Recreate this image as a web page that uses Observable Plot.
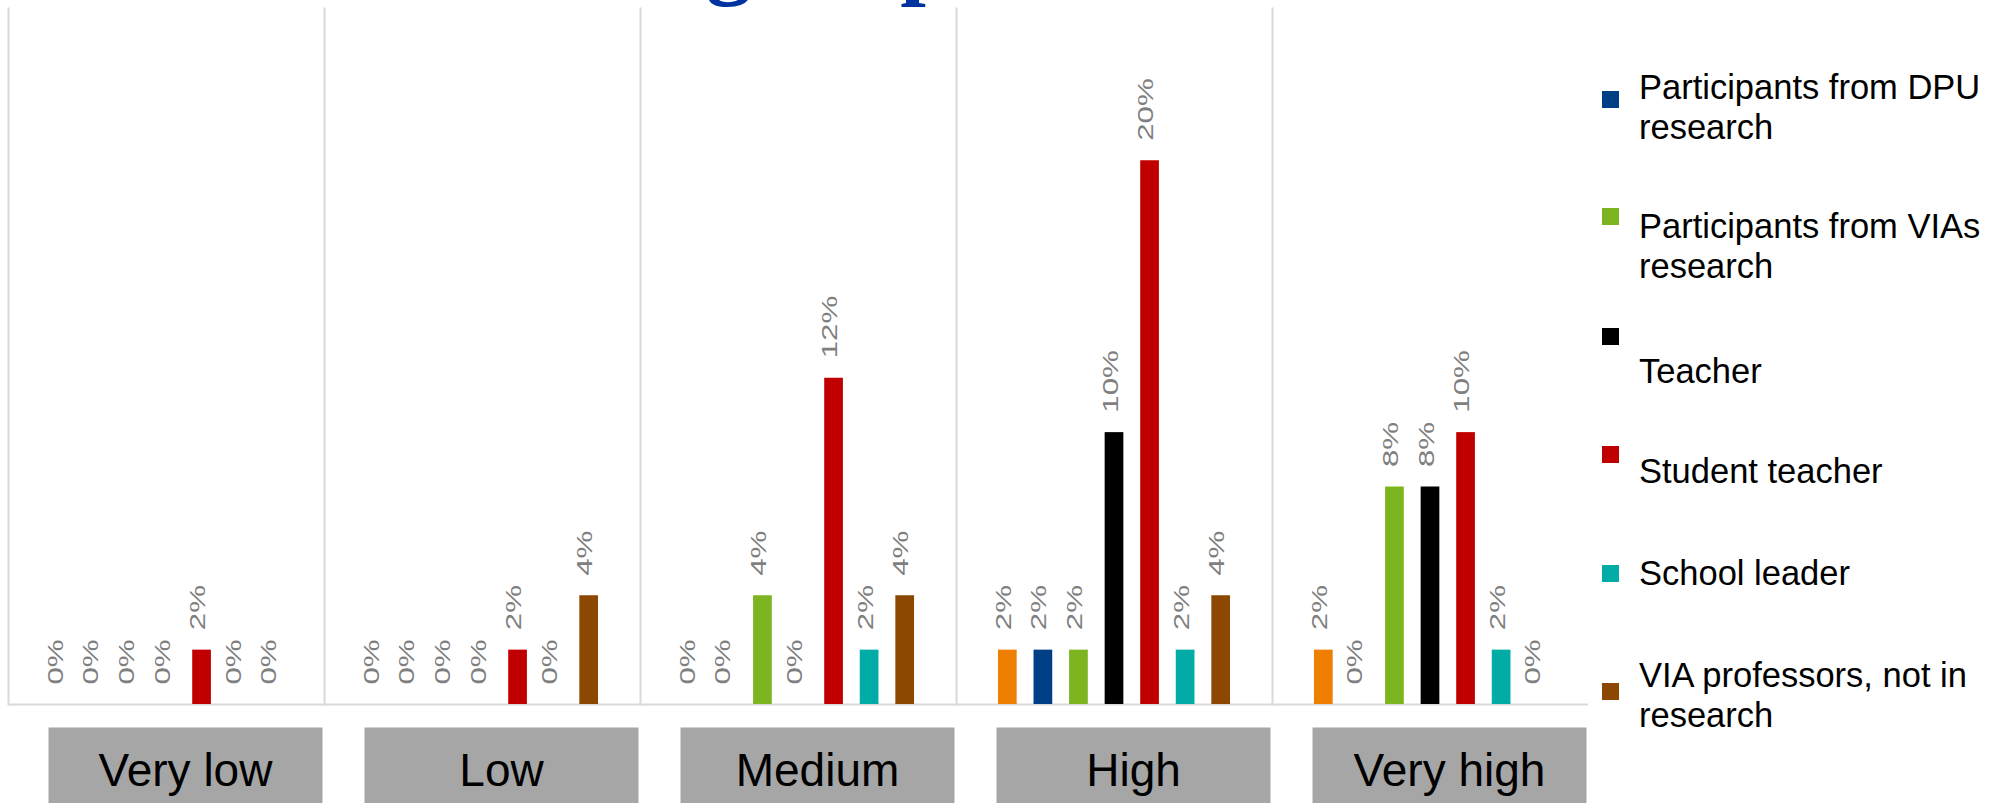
<!DOCTYPE html>
<html>
<head>
<meta charset="utf-8">
<script src="https://cdn.jsdelivr.net/npm/d3@7"></script>
<script src="https://cdn.jsdelivr.net/npm/@observablehq/plot@0.6"></script>
<style>
  html, body { margin: 0; padding: 0; background: #fff; }
  body { width: 1999px; height: 803px; position: relative; overflow: hidden; font-family: "Liberation Sans", Arial, sans-serif; }
  #chart { position: absolute; left: 0; top: 0; }
  #title { position: absolute; left: 706px; top: -89px; font: bold 92px/1 "Liberation Serif", serif; letter-spacing: 3px; color: #0033a0; white-space: nowrap; }
  #legend .swatch { position: absolute; left: 1602px; width: 17px; height: 17px; }
  #legend .label { position: absolute; left: 1639px; width: 352px; font-size: 34.5px; line-height: 40px; color: #000; }
  #legend .item:nth-child(1) .swatch { top: 91px; }  #legend .item:nth-child(1) .label { top: 67px; }
  #legend .item:nth-child(2) .swatch { top: 208px; } #legend .item:nth-child(2) .label { top: 206px; }
  #legend .item:nth-child(3) .swatch { top: 328px; } #legend .item:nth-child(3) .label { top: 351px; }
  #legend .item:nth-child(4) .swatch { top: 446px; } #legend .item:nth-child(4) .label { top: 451px; }
  #legend .item:nth-child(5) .swatch { top: 565px; } #legend .item:nth-child(5) .label { top: 553px; }
  #legend .item:nth-child(6) .swatch { top: 683px; } #legend .item:nth-child(6) .label { top: 655px; }
</style>
</head>
<body>
<div id="chart"></div>
<div id="title">groups</div>
<div id="legend"></div>
<script>
// Rating levels (one panel each) and the respondent groups within them
const groups = ["Very low", "Low", "Medium", "High", "Very high"];
const series = [
  "Other respondents",
  "Participants from DPU research",
  "Participants from VIAs research",
  "Teacher",
  "Student teacher",
  "School leader",
  "VIA professors, not in research"
];
const colors = ["#ef7f00", "#003e86", "#7cb51f", "#000000", "#c00000", "#00aca5", "#8c4800"];

// Share of answers (%) per rating level, one array per respondent group
const otherValues     = [0, 0, 0, 2, 2];
const dpuValues       = [0, 0, 0, 2, 0];
const viasValues      = [0, 0, 4, 2, 8];
const teacherValues   = [0, 0, 0, 10, 8];
const studentValues   = [2, 2, 12, 20, 10];
const leaderValues    = [0, 0, 2, 2, 2];
const professorValues = [0, 4, 4, 4, 0];

const valuesBySeries = [otherValues, dpuValues, viasValues, teacherValues, studentValues, leaderValues, professorValues];
const rows = series.flatMap((s, i) =>
  valuesBySeries[i].map((v, g) => ({group: groups[g], series: s, value: v}))
);

const labelGray = "#7f7f7f";

const chart = Plot.plot({
  width: 1999,
  height: 803,
  marginTop: 8,
  marginBottom: 99,
  marginLeft: 8,
  marginRight: 411,
  style: {fontFamily: "'Liberation Sans', Arial, sans-serif", background: "transparent"},
  fx: {domain: groups, padding: 0, axis: null, round: false},
  x: {domain: series, paddingInner: 0.474, paddingOuter: 1.18, axis: null, round: false},
  y: {domain: [0, 25.6], axis: null},
  color: {domain: series, range: colors},
  marks: [
    // grey label boxes under each panel
    Plot.frame({fill: "#a6a6a6", stroke: "none", insetTop: 719, insetBottom: -99, insetLeft: 40, insetRight: 2}),
    Plot.text(groups, {fx: d => d, text: d => d, frameAnchor: "bottom", lineAnchor: "bottom", dy: 81, dx: 19, fontSize: 46, fill: "#000"}),
    // panel separators and baseline
    Plot.frame({anchor: "left", stroke: "#d9d9d9", strokeWidth: 2}),
    Plot.ruleY([0], {stroke: "#d9d9d9", strokeWidth: 2}),
    // bars and their value labels
    Plot.barY(rows, {fx: "group", x: "series", y: "value", fill: "series"}),
    Plot.text(rows, {
      fx: "group", x: "series", y: "value",
      text: d => `${d.value}%`,
      rotate: -90, textAnchor: "start", dy: -20, dx: -4,
      fill: labelGray, fontSize: 22
    })
  ]
});
document.getElementById("chart").appendChild(chart);

// widen the rotated value labels along their reading direction
chart.querySelectorAll("text").forEach(t => {
  const tr = t.getAttribute("transform") || "";
  if (tr.includes("rotate") && /%$/.test(t.textContent)) {
    t.setAttribute("transform", tr + " scale(1.42,1)");
  }
});

// legend for the listed respondent groups
const legend = d3.select("#legend");
series.slice(1).forEach((s, i) => {
  const item = legend.append("div").attr("class", "item");
  item.append("div").attr("class", "swatch").style("background", colors[i + 1]);
  item.append("div").attr("class", "label").text(s);
});
</script>
</body>
</html>
